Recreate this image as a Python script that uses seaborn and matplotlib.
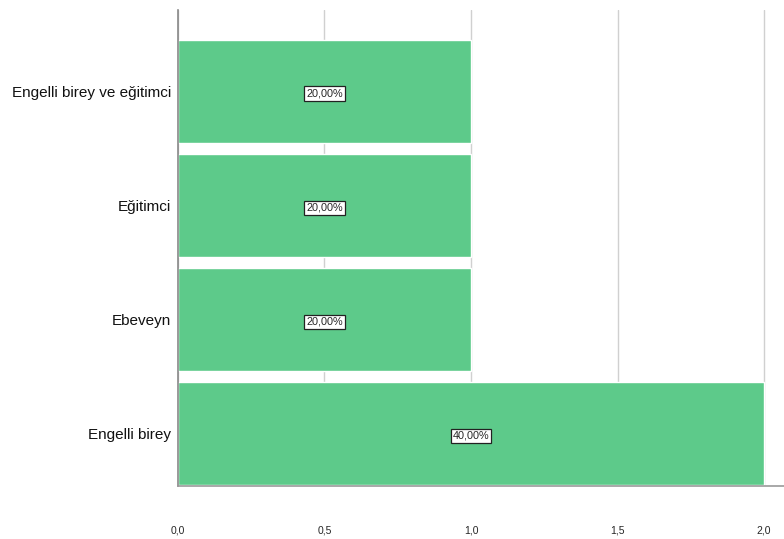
import pandas as pd
import matplotlib
matplotlib.use("Agg")
import matplotlib.pyplot as plt
import seaborn as sns

# data
categories = ["Engelli birey ve eğitimci", "Eğitimci", "Ebeveyn", "Engelli birey"]
counts = [1, 1, 1, 2]
percent_labels = ["20,00%", "20,00%", "20,00%", "40,00%"]
x_ticks = [0.0, 0.5, 1.0, 1.5, 2.0]
x_tick_labels = ["0,0", "0,5", "1,0", "1,5", "2,0"]

df = pd.DataFrame({"category": categories, "count": counts})

sns.set_style("white")
plt.rcParams["font.family"] = ["Liberation Sans", "DejaVu Sans"]

fig = plt.figure(figsize=(7.84, 5.39), dpi=100)
ax = fig.add_axes([0.227, 0.098, 0.773, 0.884])

sns.barplot(data=df, x="count", y="category", orient="h", color="#5dca8a",
            saturation=1, width=0.9, ax=ax, zorder=2)

# percentage labels in boxes at bar centres
for i, (v, lab) in enumerate(zip(counts, percent_labels)):
    ax.text(v / 2, i + 0.02, lab, ha="center", va="center", fontsize=7.8, zorder=4,
            bbox=dict(boxstyle="square,pad=0.2", facecolor="white",
                      edgecolor="#222222", linewidth=0.9))

ax.set_xlim(0, 2.068)
ax.set_ylim(3.46, -0.715)
ax.set_xticks(x_ticks)
ax.set_xticklabels(x_tick_labels, fontsize=7.5)
ax.tick_params(axis="y", labelsize=11, length=0, pad=5, labelcolor="#111111")
ax.tick_params(axis="x", length=0, pad=28)
ax.xaxis.grid(True, color="#d0d0d0", linewidth=1, zorder=0)
ax.set_axisbelow(True)
ax.set_xlabel("")
ax.set_ylabel("")

for s in ["top", "right"]:
    ax.spines[s].set_visible(False)
ax.spines["left"].set_color("#888888")
ax.spines["bottom"].set_color("#999999")
ax.spines["left"].set_linewidth(1.2)
ax.spines["bottom"].set_linewidth(1.2)

fig.savefig("out.png", dpi=100)
